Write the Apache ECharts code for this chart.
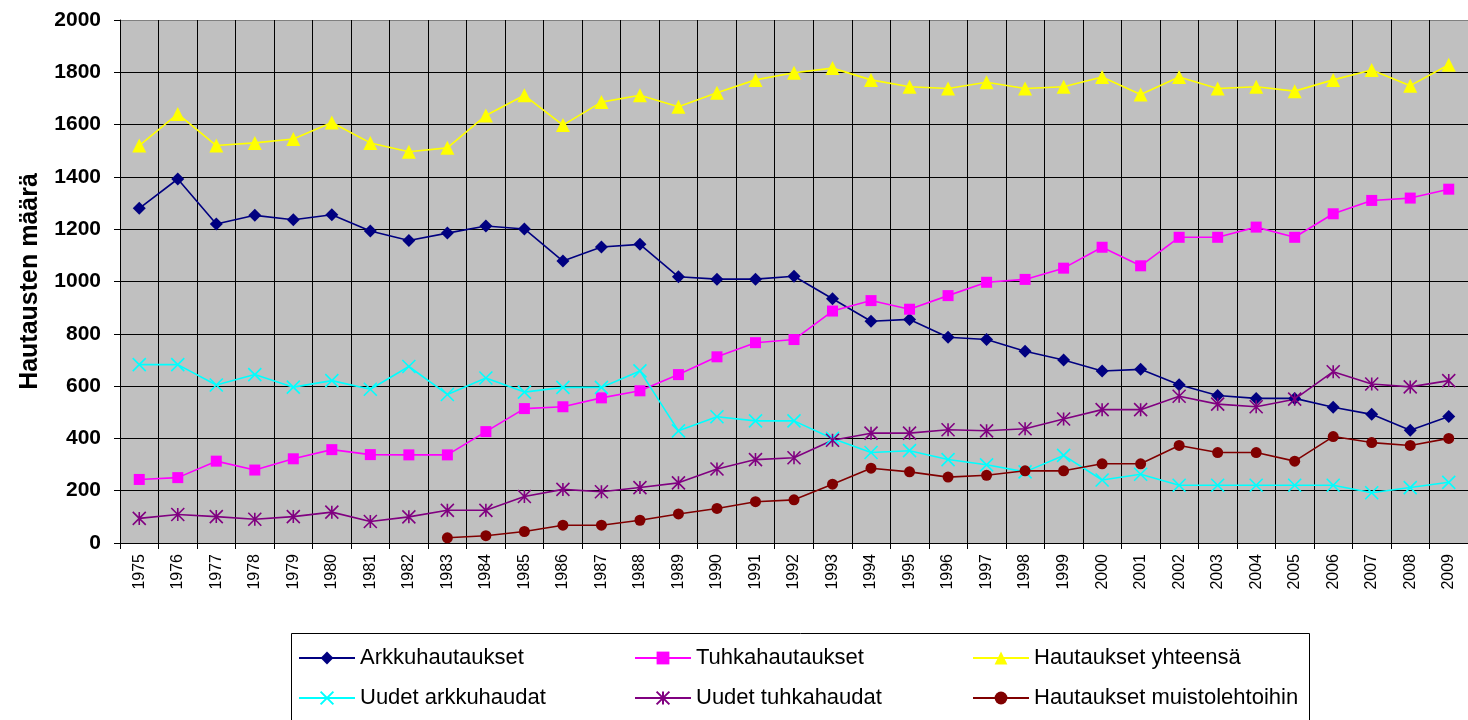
<!DOCTYPE html>
<html>
<head>
<meta charset="utf-8">
<script src="https://cdn.jsdelivr.net/npm/echarts@6/dist/echarts.min.js"></script>
<style>html,body{margin:0;padding:0;background:#fff;}#c{width:1468px;height:720px;}</style>
</head>
<body>
<div id="c"></div>
<script>
var years = ['1975','1976','1977','1978','1979','1980','1981','1982','1983','1984','1985','1986','1987','1988','1989','1990','1991','1992','1993','1994','1995','1996','1997','1998','1999','2000','2001','2002','2003','2004','2005','2006','2007','2008','2009'];
var arkkuhautaukset = [1280,1392,1220,1253,1236,1255,1193,1157,1185,1212,1201,1078,1132,1142,1018,1009,1009,1020,934,848,855,787,778,733,700,658,664,605,564,553,553,519,492,431,484];
var tuhkahautaukset = [243,250,313,279,322,357,338,337,337,426,514,521,555,582,644,712,766,778,887,927,894,946,997,1008,1051,1131,1060,1169,1169,1208,1169,1259,1310,1319,1353];
var yhteensa = [1520,1641,1520,1530,1545,1608,1530,1496,1511,1635,1712,1598,1686,1712,1668,1722,1771,1798,1816,1771,1745,1738,1762,1738,1745,1782,1715,1782,1738,1745,1728,1771,1809,1749,1829];
var uudetArkkuhaudat = [682,682,604,644,596,621,588,675,568,631,577,595,595,658,429,483,467,467,400,346,353,319,299,272,335,241,263,221,221,221,221,221,192,212,232];
var uudetTuhkahaudat = [94,109,101,91,101,118,82,100,125,125,178,205,196,212,230,283,319,326,393,420,420,433,429,437,474,510,510,561,531,521,550,655,608,597,621];
var muistolehdot = [null,null,null,null,null,null,null,null,20,28,44,68,68,87,111,132,158,165,225,286,272,252,259,276,276,303,303,373,346,346,313,407,384,373,400];
var yTicks = {min: 0, max: 2000, interval: 200};

var FONT = "'Liberation Sans', Arial, sans-serif";
var chart = echarts.init(document.getElementById('c'), null, {renderer: 'canvas'});

function mk(name, data, color, symbol, size, extra) {
  var s = {
    name: name, type: 'line', data: data,
    symbol: symbol, symbolSize: size,
    showAllSymbol: true,
    connectNulls: false,
    lineStyle: {color: color, width: 1.6},
    itemStyle: {color: color},
    emphasis: {disabled: true},
    animation: false,
    z: 3
  };
  if (extra) { s.itemStyle = {color: color, borderColor: color, borderWidth: 1.6}; }
  return s;
}

var xPath = 'path://M0,0L10,10M10,0L0,10';
var starPath = 'path://M5,0L5,10M0,0L10,10M10,0L0,10';

var splitColors = [];
for (var i = 0; i < 10; i++) splitColors.push('#000');
splitColors.push('#808080');

var legendBase = {
  orient: 'vertical',
  itemWidth: 56,
  itemHeight: 16,
  itemGap: 18,
  top: 647,
  padding: 0,
  textStyle: {fontFamily: FONT, fontSize: 22, color: '#000'}
};

var option = {
  backgroundColor: '#fff',
  animation: false,
  grid: {
    left: 120, top: 20, width: 1356, height: 523,
    show: true, backgroundColor: '#C0C0C0', borderWidth: 0,
    containLabel: false
  },
  xAxis: {
    type: 'category',
    data: years,
    boundaryGap: true,
    axisLine: {show: true, lineStyle: {color: '#000', width: 1}},
    axisTick: {show: true, length: 6, inside: false, alignWithLabel: false, interval: 0, lineStyle: {color: '#000'}},
    axisLabel: {rotate: 90, interval: 0, margin: 11, fontFamily: FONT, fontSize: 16, color: '#000'},
    splitLine: {show: true, interval: 0, lineStyle: {color: '#000', width: 1}}
  },
  yAxis: {
    type: 'value',
    min: yTicks.min, max: yTicks.max, interval: yTicks.interval,
    name: 'Hautausten määrä',
    nameLocation: 'middle',
    nameGap: 77,
    nameRotate: 90,
    nameTextStyle: {fontFamily: FONT, fontSize: 25, fontWeight: 'bold', color: '#000'},
    axisLine: {show: true, lineStyle: {color: '#000', width: 1}},
    axisTick: {show: true, length: 6, inside: false, lineStyle: {color: '#000'}},
    axisLabel: {margin: 19, fontFamily: FONT, fontSize: 21, fontWeight: 'bold', color: '#000',
      formatter: function (v) { return String(v); }},
    splitLine: {show: true, lineStyle: {color: splitColors, width: 1}}
  },
  legend: [
    Object.assign({}, legendBase, {left: 298, data: ['Arkkuhautaukset', 'Uudet arkkuhaudat']}),
    Object.assign({}, legendBase, {left: 634, data: ['Tuhkahautaukset', 'Uudet tuhkahaudat']}),
    Object.assign({}, legendBase, {left: 972, data: ['Hautaukset yhteensä', 'Hautaukset muistolehtoihin']})
  ],
  graphic: [{
    type: 'rect', left: 289, top: 631, silent: true, z: 0,
    shape: {width: 1018, height: 110},
    style: {fill: 'none', stroke: '#000', lineWidth: 1}
  }],
  series: [
    mk('Arkkuhautaukset', arkkuhautaukset, '#000080', 'diamond', 13),
    mk('Tuhkahautaukset', tuhkahautaukset, '#FF00FF', 'rect', 11),
    mk('Hautaukset yhteensä', yhteensa, '#FFFF00', 'triangle', 14),
    mk('Uudet arkkuhaudat', uudetArkkuhaudat, '#00FFFF', xPath, 13, true),
    mk('Uudet tuhkahaudat', uudetTuhkahaudat, '#800080', starPath, 13, true),
    mk('Hautaukset muistolehtoihin', muistolehdot, '#800000', 'circle', 11)
  ]
};
chart.setOption(option);
</script>
</body>
</html>
